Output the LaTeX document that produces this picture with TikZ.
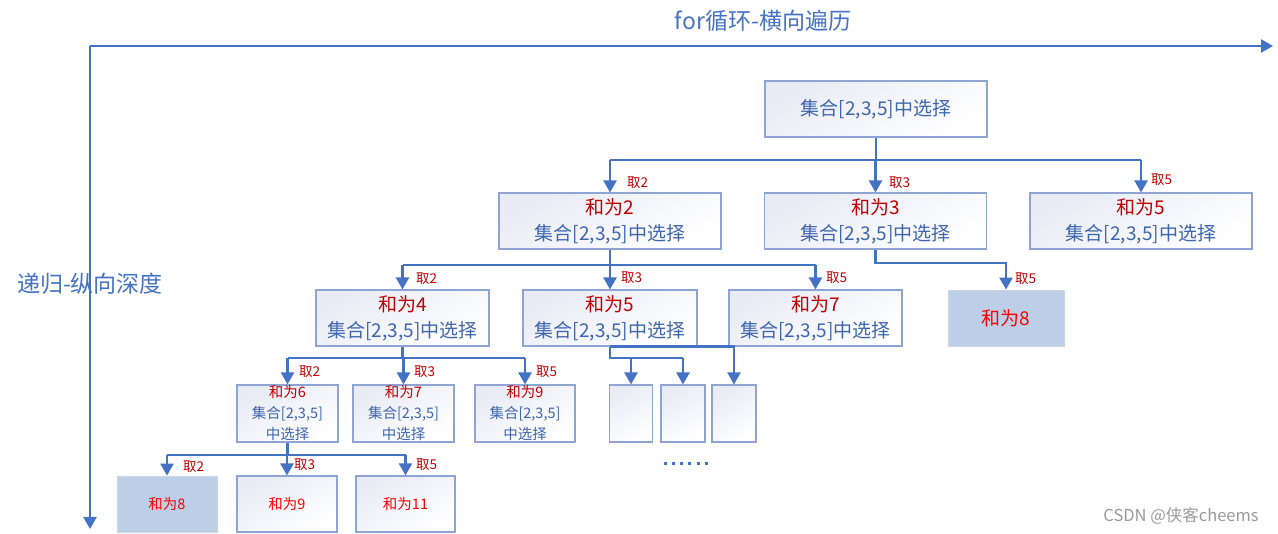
\documentclass[tikz,border=0pt]{standalone}
\usepackage{fontspec}
\setmainfont{Noto Sans CJK SC}
\usetikzlibrary{arrows.meta}
\definecolor{lineblue}{HTML}{4472C4}
\definecolor{txtblue}{HTML}{3E66AE}
\definecolor{darkred}{HTML}{C00000}
\definecolor{boxedge}{HTML}{8EA4D2}
\definecolor{boxtop}{HTML}{E9EBF5}
\definecolor{fillbox}{HTML}{BDCFE7}
\definecolor{filledge}{HTML}{CAD5E6}
\definecolor{wm}{HTML}{9A9A9A}
\tikzset{
  conn/.style={draw=lineblue,line width=2.3pt},
  arr/.style={conn,-{Triangle[length=12pt,width=13pt]}},
  gbox/.style={draw=boxedge,line width=1.1pt,top color=boxtop,bottom color=white,shading angle=30,inner sep=0pt,align=center,text=txtblue},
  fbox/.style={draw=filledge,line width=0.8pt,fill=fillbox,inner sep=0pt,align=center,text=red},
  big/.style={font=\fontsize{19}{26}\selectfont},
  small/.style={font=\fontsize{14.5}{21}\selectfont},
  take/.style={anchor=west,inner sep=0pt,text=darkred,font=\fontsize{13.5}{15}\selectfont},
  axistxt/.style={text=lineblue,inner sep=0pt,font=\fontsize{23}{26}\selectfont}
}
\begin{document}
\begin{tikzpicture}[x=1pt,y=-1pt]
\useasboundingbox (0,0) rectangle (1278,534);
% axes
\coordinate (o) at (90,46);
\coordinate (xe) at (1273,46);
\coordinate (ye) at (90,529);
\draw[arr] (o) -- (xe);
\draw[arr] (o) -- (ye);
\node[axistxt] (xt) at (763,21) {for循环-横向遍历};
\node[axistxt] (yt) at (90,284) {递归-纵向深度};

% level 0
\node[gbox,big,minimum width=222pt,minimum height=56pt] (root) at (876,109) {集合[2,3,5]中选择};
% level 1
\node[gbox,big,minimum width=222pt,minimum height=56pt] (A) at (610,221) {\textcolor{darkred}{和为2}\\集合[2,3,5]中选择};
\node[gbox,big,minimum width=222pt,minimum height=56pt] (B) at (875.5,221) {\textcolor{darkred}{和为3}\\集合[2,3,5]中选择};
\node[gbox,big,minimum width=222pt,minimum height=56pt] (C) at (1141,221) {\textcolor{darkred}{和为5}\\集合[2,3,5]中选择};
% level 2
\node[gbox,big,minimum width=173pt,minimum height=56pt] (D) at (402.5,318) {\textcolor{darkred}{和为4}\\集合[2,3,5]中选择};
\node[gbox,big,minimum width=174pt,minimum height=56pt] (E) at (610,318) {\textcolor{darkred}{和为5}\\集合[2,3,5]中选择};
\node[gbox,big,minimum width=173pt,minimum height=56pt] (F) at (815.5,318) {\textcolor{darkred}{和为7}\\集合[2,3,5]中选择};
\node[fbox,big,minimum width=116pt,minimum height=56pt] (G) at (1006,318) {和为8};
% level 3
\node[gbox,small,minimum width=101pt,minimum height=57pt] (H) at (287.5,413.5) {\textcolor{darkred}{和为6}\\集合[2,3,5]\\中选择};
\node[gbox,small,minimum width=101pt,minimum height=57pt] (I) at (403.5,413.5) {\textcolor{darkred}{和为7}\\集合[2,3,5]\\中选择};
\node[gbox,small,minimum width=100pt,minimum height=57pt] (J) at (525,413.5) {\textcolor{darkred}{和为9}\\集合[2,3,5]\\中选择};
\node[gbox,minimum width=43pt,minimum height=57pt] (P1) at (631,413.5) {};
\node[gbox,minimum width=44pt,minimum height=57pt] (P2) at (683,413.5) {};
\node[gbox,minimum width=44pt,minimum height=57pt] (P3) at (734,413.5) {};
% level 4
\node[fbox,small,minimum width=100pt,minimum height=56pt] (K) at (167,504) {和为8};
\node[gbox,small,minimum width=100pt,minimum height=56pt,text=red] (L) at (287,504) {和为9};
\node[gbox,small,minimum width=99pt,minimum height=56pt,text=red] (M) at (405.5,504) {和为11};

% connectors root
\coordinate (b0) at (0,160);
\draw[conn] (root.south) -- (root.south |- b0);
\draw[conn] (A.north |- b0) -- (C.north |- b0);
\draw[arr] (A.north |- b0) -- (A.north);
\draw[arr] (B.north |- b0) -- (B.north);
\draw[arr] (C.north |- b0) -- (C.north);
\node[take] (t02) at (627,183) {取2};
\node[take] (t03) at (889,183) {取3};
\node[take] (t05) at (1151,180) {取5};

% connectors A
\coordinate (b1) at (0,265);
\draw[conn] (A.south) -- (A.south |- b1);
\draw[conn] (D.north |- b1) -- (F.north |- b1);
\draw[arr] (D.north |- b1) -- (D.north);
\draw[arr] (E.north |- b1) -- (E.north);
\draw[arr] (F.north |- b1) -- (F.north);
\node[take] (t12) at (416,279) {取2};
\node[take] (t13) at (621,278) {取3};
\node[take] (t15) at (826,278) {取5};
% connectors B
\coordinate (b2) at (0,263);
\draw[arr] (B.south) |- (G.north |- b2) -- (G.north);
\node[take] (t25) at (1015,279) {取5};

% connectors D
\coordinate (b3) at (0,358);
\draw[conn] (D.south) -- (D.south |- b3);
\draw[conn] (H.north |- b3) -- (J.north |- b3);
\draw[arr] (H.north |- b3) -- (H.north);
\draw[arr] (I.north |- b3) -- (I.north);
\draw[arr] (J.north |- b3) -- (J.north);
\node[take] (t32) at (299,372) {取2};
\node[take] (t33) at (414,372) {取3};
\node[take] (t35) at (536,372) {取5};
% connectors E
\draw[conn] (E.south) -- (E.south |- b3) -- (P2.north |- b3);
\draw[arr] (P1.north |- b3) -- (P1.north);
\draw[arr] (P2.north |- b3) -- (P2.north);
\draw[arr] (E.south) -| (P3.north);

% connectors H
\coordinate (b4) at (0,455);
\draw[conn] (H.south) -- (H.south |- b4);
\draw[conn] (K.north |- b4) -- (M.north |- b4);
\draw[arr] (K.north |- b4) -- (K.north);
\draw[arr] (L.north |- b4) -- (L.north);
\draw[arr] (M.north |- b4) -- (M.north);
\node[take] (t42) at (183,467) {取2};
\node[take] (t43) at (294,465) {取3};
\node[take] (t45) at (416,465) {取5};

% dots
\foreach \i in {0,...,5}{
  \fill[lineblue] (663.5+8.3*\i,462.5) rectangle ++(3,3);
}
% watermark
\node[text=wm,inner sep=0pt,font=\fontsize{16.5}{18}\selectfont] (wmk) at (1181,516) {CSDN @侠客cheems};
\end{tikzpicture}
\end{document}
